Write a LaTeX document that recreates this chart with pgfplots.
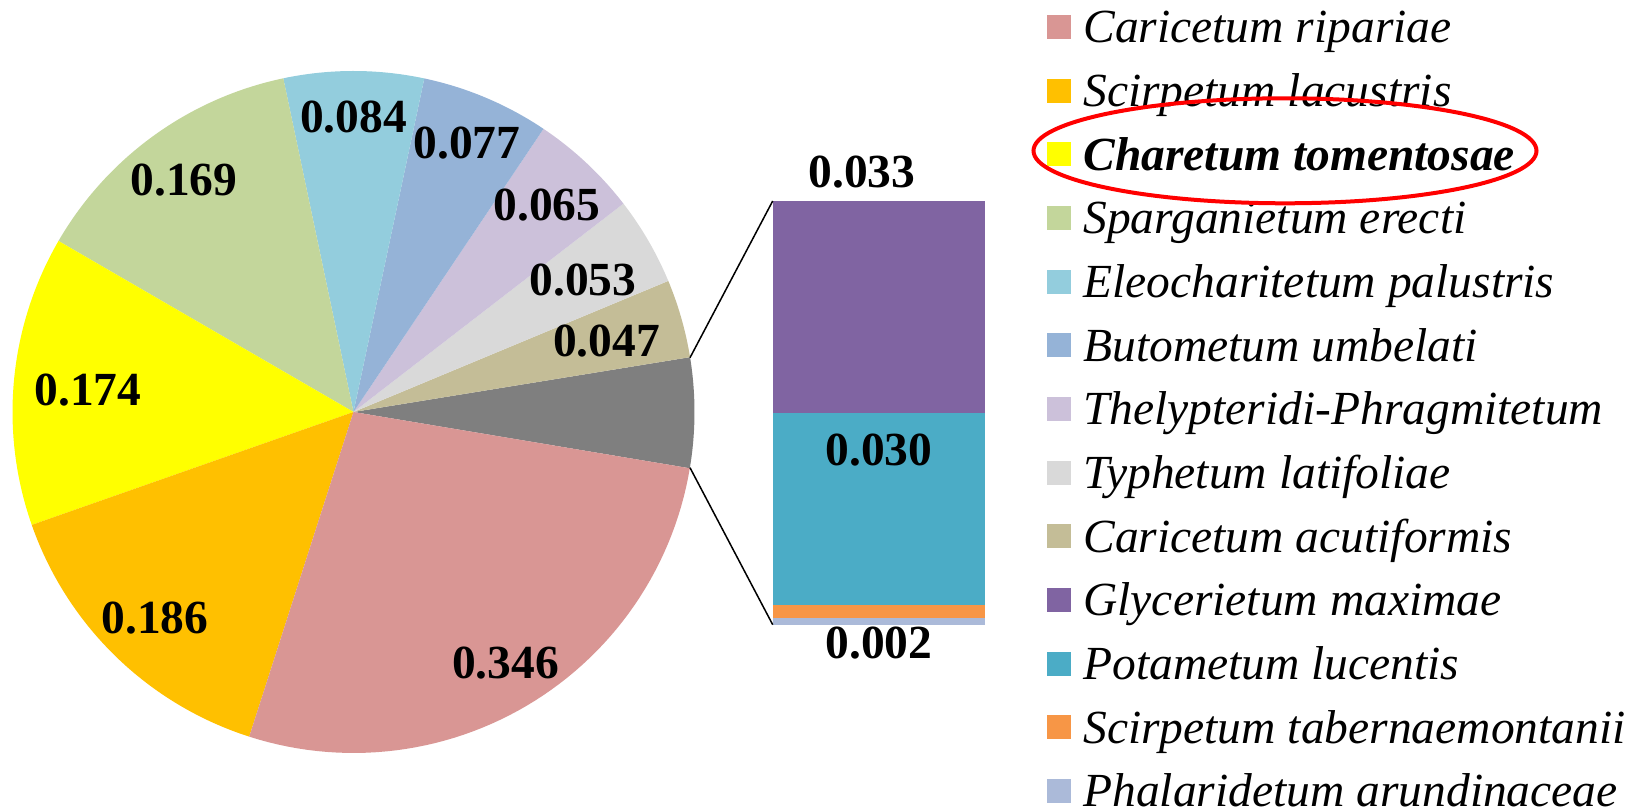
\documentclass[border=0pt]{standalone}
\usepackage{pgfplots}
\pgfplotsset{compat=1.18}
\usepackage{fontspec}
\setmainfont{Liberation Serif}
\definecolor{cRip}{HTML}{D99694}
\definecolor{cLac}{HTML}{FFC000}
\definecolor{cCha}{HTML}{FFFF00}
\definecolor{cSpa}{HTML}{C3D69B}
\definecolor{cEle}{HTML}{93CDDD}
\definecolor{cBut}{HTML}{95B3D7}
\definecolor{cThe}{HTML}{CCC1DA}
\definecolor{cTyp}{HTML}{D9D9D9}
\definecolor{cAcu}{HTML}{C4BD97}
\definecolor{cOth}{HTML}{7F7F7F}
\definecolor{cGly}{HTML}{8064A2}
\definecolor{cPot}{HTML}{4BACC6}
\definecolor{cTab}{HTML}{F79646}
\definecolor{cPha}{HTML}{ABBAD9}
\newcommand\lblfont{\fontsize{23.75pt}{28pt}\selectfont\bfseries}
\newcommand\legfont{\fontsize{23.75pt}{28pt}\selectfont\itshape}
% pie values
\def\vRip{0.346}\def\vLac{0.186}\def\vCha{0.174}\def\vSpa{0.169}
\def\vEle{0.084}\def\vBut{0.077}\def\vThe{0.065}\def\vTyp{0.053}\def\vAcu{0.047}
% bar values (the "other" slice)
\def\vGly{0.033}\def\vPot{0.030}\def\vTab{0.002}\def\vPha{0.001}
\pgfmathsetmacro\vOth{\vGly+\vPot+\vTab+\vPha}
\pgfmathsetmacro\pietotal{\vRip+\vLac+\vCha+\vSpa+\vEle+\vBut+\vThe+\vTyp+\vAcu+\vOth}
\newcommand\pieslice[2]{%
  \pgfmathsetmacro\angEnd{\angStart+360*#1/\pietotal}%
  \edef\doslice{\noexpand\addplot[fill=#2,draw=none,domain=\angStart:\angEnd,samples=60,variable=\noexpand\t] ({353.5+341*cos(\noexpand\t)},{396+341*sin(\noexpand\t)}) -- (axis cs:353.5,396) -- cycle;}%
  \doslice
  \xdef\angStart{\angEnd}%
}
\begin{document}
\begin{tikzpicture}
\begin{axis}[at={(0,0)}, anchor=south west, width=823pt, height=404pt, scale only axis,
  xmin=0, xmax=1646, ymin=0, ymax=808, hide axis, clip=false]
\xdef\angStart{-9.5}
\pieslice{\vOth}{cOth}
\pieslice{\vAcu}{cAcu}
\pieslice{\vTyp}{cTyp}
\pieslice{\vThe}{cThe}
\pieslice{\vBut}{cBut}
\pieslice{\vEle}{cEle}
\pieslice{\vSpa}{cSpa}
\pieslice{\vCha}{cCha}
\pieslice{\vLac}{cLac}
\pieslice{\vRip}{cRip}
\end{axis}
\begin{axis}[at={(386.35pt,91.65pt)}, anchor=south west, width=106.15pt, height=211.85pt,
  scale only axis, xmin=-0.5, xmax=0.5, ymin=0, ymax=0.066, hide axis,
  ybar stacked, bar width=106.15pt, clip=false]
\addplot[fill=cPha, draw=none] coordinates {(0,\vPha)};
\addplot[fill=cTab, draw=none] coordinates {(0,\vTab)};
\addplot[fill=cPot, draw=none] coordinates {(0,\vPot)};
\addplot[fill=cGly, draw=none] coordinates {(0,\vGly)};
\end{axis}
% connector lines
\draw[black, line width=0.75pt] (345pt,225.15pt) -- (386.35pt,303.5pt);
\draw[black, line width=0.75pt] (345pt,170.15pt) -- (386.35pt,91.65pt);
% data labels
\begin{scope}[every node/.style={font=\lblfont, inner sep=0pt, anchor=center}]
\node at (176.8pt,345.65pt) {0.084};
\node at (233.5pt,332.5pt) {0.077};
\node at (92pt,314pt) {0.169};
\node at (273.5pt,301.5pt) {0.065};
\node at (291.5pt,264pt) {0.053};
\node at (303.3pt,233.5pt) {0.047};
\node at (44pt,209pt) {0.174};
\node at (77.5pt,95pt) {0.186};
\node at (252.8pt,72.5pt) {0.346};
\node at (431pt,318.15pt) {0.033};
\node at (439.5pt,179.15pt) {0.030};
\node at (439.5pt,82.5pt) {0.002};
\end{scope}
% legend
\foreach \c/\t [count=\i from 0] in {cRip/Caricetum ripariae, cLac/Scirpetum lacustris,
  cCha/{\bfseries Charetum tomentosae}, cSpa/Sparganietum erecti, cEle/Eleocharitetum palustris,
  cBut/Butometum umbelati, cThe/Thelypteridi-Phragmitetum, cTyp/Typhetum latifoliae,
  cAcu/Caricetum acutiformis, cGly/Glycerietum maximae, cPot/Potametum lucentis,
  cTab/Scirpetum tabernaemontanii, cPha/Phalaridetum arundinaceae}{
  \pgfmathsetmacro\ym{390.5-31.835*\i}
  \pgfmathsetmacro\yb{382.65-31.835*\i}
  \fill[\c] (523.5pt,\ym pt-6pt) rectangle (535.5pt,\ym pt+6pt);
  \node[anchor=base west, inner sep=0pt, font=\legfont] at (541.5pt,\yb pt) {\t};
}
\draw[red, line width=2pt] (642.5pt,328.6pt) ellipse [x radius=125.75pt, y radius=26.25pt];
\pgfresetboundingbox
\path[use as bounding box] (0,0) rectangle (823pt,404pt);
\end{tikzpicture}
\end{document}
